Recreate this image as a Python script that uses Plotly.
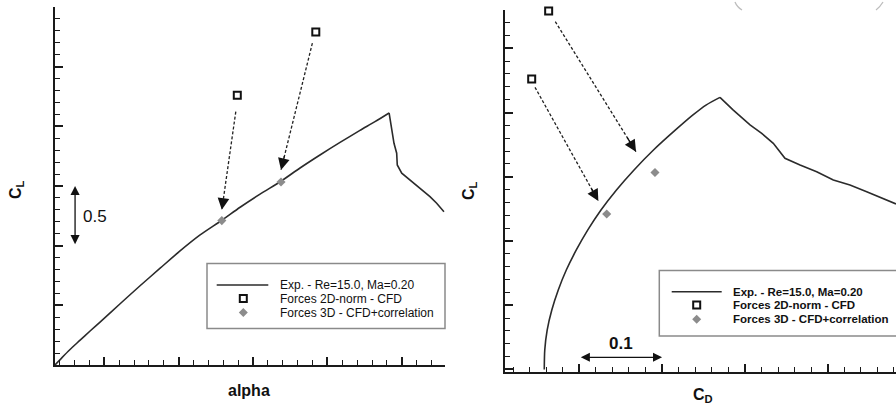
import plotly.graph_objects as go

# ---- data -------------------------------------------------------------
# Experimental lift curve  C_L(alpha); PEAK_A is the index of C_L,max
exp_alpha = [-3.32, -2.85, -2.31, -1.63, -0.96, -0.29, 1.06, 2.40, 3.75, 5.09,
             6.44, 7.90, 9.13, 10.47, 11.88, 13.16, 14.50, 15.85, 17.19,
             18.20, 19.15, 19.33, 19.48, 19.66, 19.70, 20.00, 20.56, 21.23,
             21.90, 22.35, 22.84]
exp_cl_a = [0.0, 0.062, 0.130, 0.208, 0.285, 0.360, 0.513, 0.664, 0.811,
            0.956, 1.090, 1.213, 1.322, 1.432, 1.540, 1.651, 1.760, 1.865,
            1.966, 2.039, 2.112, 1.970, 1.858, 1.775, 1.676, 1.607, 1.551,
            1.481, 1.411, 1.355, 1.285]
PEAK_A = 20

# Experimental drag polar  C_L(C_D); PEAK_D is the index of C_L,max
exp_cd = [0.0577, 0.0583, 0.0612, 0.0668, 0.0746, 0.0843, 0.0964, 0.1103,
          0.1262, 0.1449, 0.1661, 0.1896, 0.2162, 0.2373, 0.2530, 0.2699,
          0.2860, 0.3062, 0.3203, 0.3343, 0.3484, 0.3666, 0.3867, 0.4068,
          0.4269, 0.4471, 0.4671, 0.4825]
exp_cl_d = [0.0, 0.152, 0.307, 0.463, 0.619, 0.774, 0.930, 1.086, 1.241,
            1.397, 1.553, 1.708, 1.864, 1.981, 2.058, 2.118, 2.019, 1.903,
            1.838, 1.760, 1.644, 1.591, 1.539, 1.475, 1.436, 1.384, 1.332,
            1.288]
PEAK_D = 15

# CFD forces, 2D normalisation
cfd2d_alpha = [8.94, 14.22]
cfd2d_cd = [0.0425, 0.0630]
cfd2d_cl = [2.260, 2.790]

# CFD forces with 3D correlation
cfd3d_alpha = [7.90, 11.88]
cfd3d_cd = [0.1331, 0.1914]
cfd3d_cl = [1.210, 1.533]

# correction arrows (tail -> head)
arr_a_alpha0 = [8.84, 13.99]
arr_a_cl0 = [2.123, 2.697]
arr_a_alpha1 = [7.90, 11.88]
arr_a_cl1 = [1.300, 1.635]

arr_d_cd0 = [0.0465, 0.0710]
arr_d_cl0 = [2.196, 2.707]
arr_d_cd1 = [0.1230, 0.1685]
arr_d_cl1 = [1.311, 1.695]

# scale bars
scale_cl = [1.0, 1.5]
scale_cl_alpha = -1.97
scale_cd = [0.1, 0.2]
scale_cd_cl = 0.095

legend_labels = ["Exp. - Re=15.0, Ma=0.20",
                 "Forces 2D-norm - CFD",
                 "Forces 3D - CFD+correlation"]

# ---- styling ------------------------------------------------------------
W, H = 896, 419
FONT = "Liberation Sans, Arial, sans-serif"
LINE = "#2b2b2b"
GREY = "#8c8c8c"
INK = "#111"


def px(x):
    return x / W


def py(y):
    return 1 - y / H


fig = go.Figure()


def add_panel(xs, ys, peak, sq_x, sq_y, dm_x, dm_y, a0x, a0y, a1x, a1y,
              xa, ya):
    # rising branch drawn smooth, post-stall branch as measured
    fig.add_trace(go.Scatter(x=xs[:peak + 1], y=ys[:peak + 1], mode="lines",
                             line=dict(color=LINE, width=1.6, shape="spline",
                                       smoothing=0.8),
                             xaxis=xa, yaxis=ya, showlegend=False))
    fig.add_trace(go.Scatter(x=xs[peak:], y=ys[peak:], mode="lines",
                             line=dict(color=LINE, width=1.6),
                             xaxis=xa, yaxis=ya, showlegend=False))
    for i in range(2):
        fig.add_trace(go.Scatter(x=[a0x[i], a1x[i]], y=[a0y[i], a1y[i]],
                                 mode="lines",
                                 line=dict(color="#222", width=1.3,
                                           dash="3px,2px"),
                                 xaxis=xa, yaxis=ya, showlegend=False))
    fig.add_trace(go.Scatter(x=sq_x, y=sq_y, mode="markers", cliponaxis=False,
                             marker=dict(symbol="square", size=7,
                                         color="white",
                                         line=dict(color=INK, width=2)),
                             xaxis=xa, yaxis=ya, showlegend=False))
    fig.add_trace(go.Scatter(x=dm_x, y=dm_y, mode="markers", cliponaxis=False,
                             marker=dict(symbol="diamond", size=7, color=GREY,
                                         line=dict(width=0)),
                             xaxis=xa, yaxis=ya, showlegend=False))


add_panel(exp_alpha, exp_cl_a, PEAK_A, cfd2d_alpha, cfd2d_cl, cfd3d_alpha,
          cfd3d_cl, arr_a_alpha0, arr_a_cl0, arr_a_alpha1, arr_a_cl1,
          "x", "y")
add_panel(exp_cd, exp_cl_d, PEAK_D, cfd2d_cd, cfd2d_cl, cfd3d_cd, cfd3d_cl,
          arr_d_cd0, arr_d_cl0, arr_d_cd1, arr_d_cl1, "x2", "y2")

ax_common = dict(showline=True, linewidth=2, linecolor="#1a1a1a",
                 ticks="inside", ticklen=8, tickwidth=1.5, tickcolor="#1a1a1a",
                 showticklabels=False, showgrid=False, zeroline=False,
                 mirror=False)


def minor(step):
    return dict(ticks="inside", ticklen=5, tickwidth=1, tickcolor="#1a1a1a",
                dtick=step)


fig.update_layout(
    width=W, height=H,
    margin=dict(l=0, r=0, t=0, b=0),
    paper_bgcolor="white", plot_bgcolor="white",
    font=dict(family=FONT, color=INK),
    xaxis=dict(domain=[px(55), px(445)], range=[-3.32, 22.91], anchor="y",
               tick0=0, dtick=5, minor=minor(1), **ax_common),
    yaxis=dict(domain=[py(365), py(7)], range=[0, 3.0], anchor="x",
               tick0=0, dtick=0.5, minor=minor(0.1), **ax_common),
    xaxis2=dict(domain=[px(505), 1.0], range=[0.01027, 0.4825], anchor="y2",
                tick0=0, dtick=0.1, minor=minor(0.02), **ax_common),
    yaxis2=dict(domain=[py(372), py(9.7)], range=[-0.0195, 2.80],
                anchor="x2", tick0=0, dtick=0.5, minor=minor(0.1),
                **ax_common),
)

annotations = []
# arrow heads at the end of the dashed correction lines
for i in range(2):
    t = 0.12
    for (x1, y1, x0, y0, xr, yr) in [
            (arr_a_alpha1[i], arr_a_cl1[i], arr_a_alpha0[i], arr_a_cl0[i],
             "x", "y"),
            (arr_d_cd1[i], arr_d_cl1[i], arr_d_cd0[i], arr_d_cl0[i],
             "x2", "y2")]:
        annotations.append(dict(
            x=x1, y=y1, xref=xr, yref=yr,
            ax=x1 + t * (x0 - x1), ay=y1 + t * (y0 - y1),
            axref=xr, ayref=yr, text="", showarrow=True,
            arrowhead=2, arrowsize=1.8, arrowwidth=1.3, arrowcolor=INK))

# scale bars
annotations.append(dict(x=scale_cl_alpha, y=scale_cl[1], xref="x", yref="y",
                        ax=scale_cl_alpha, ay=scale_cl[0], axref="x", ayref="y",
                        text="", showarrow=True, arrowside="end+start",
                        arrowhead=2, arrowsize=1.4, arrowwidth=1.3,
                        arrowcolor=INK))
annotations.append(dict(x=scale_cd[1], y=scale_cd_cl, xref="x2", yref="y2",
                        ax=scale_cd[0], ay=scale_cd_cl, axref="x2", ayref="y2",
                        text="", showarrow=True, arrowside="end+start",
                        arrowhead=2, arrowsize=1.4, arrowwidth=1.3,
                        arrowcolor=INK))


def label(x, y, text, size, angle=0, xanchor="center"):
    annotations.append(dict(x=px(x), y=py(y), xref="paper", yref="paper",
                            xanchor=xanchor, yanchor="middle",
                            showarrow=False, text=text, textangle=angle,
                            font=dict(size=size, color=INK)))


label(81, 216.5, "0.5", 17, xanchor="left")
label(620.5, 343.5, "<b>0.1</b>", 17)

# axis titles
label(16, 190, "<b>C<sub>L</sub></b>", 16, angle=-90)
label(469, 191, "<b>C<sub>L</sub></b>", 16, angle=-90)
label(248.5, 390, "<b>alpha</b>", 16)
label(703, 395, "<b>C<sub>D</sub></b>", 16)

shapes = []


def add_legend(x0, y0, x1, y1, line_x0, line_x1, sym_x, text_x, rows, bold,
               size):
    shapes.append(dict(type="rect", xref="paper", yref="paper",
                       x0=px(x0), x1=px(x1), y0=py(y1), y1=py(y0),
                       line=dict(color="#8a8a8a", width=1.5),
                       fillcolor="rgba(0,0,0,0)"))
    shapes.append(dict(type="line", xref="paper", yref="paper",
                       x0=px(line_x0), x1=px(line_x1),
                       y0=py(rows[0]), y1=py(rows[0]),
                       line=dict(color=LINE, width=1.6)))
    s = 3.5
    shapes.append(dict(type="rect", xref="paper", yref="paper",
                       x0=px(sym_x - s), x1=px(sym_x + s),
                       y0=py(rows[1] + s), y1=py(rows[1] - s),
                       line=dict(color=INK, width=2), fillcolor="white"))
    d = 4.5
    cx, cy = sym_x, rows[2]
    path = (f"M {px(cx)} {py(cy - d)} L {px(cx + d)} {py(cy)} "
            f"L {px(cx)} {py(cy + d)} L {px(cx - d)} {py(cy)} Z")
    shapes.append(dict(type="path", xref="paper", yref="paper", path=path,
                       line=dict(width=0), fillcolor=GREY))
    for lab, ry in zip(legend_labels, rows):
        label(text_x, ry, f"<b>{lab}</b>" if bold else lab, size,
              xanchor="left")


add_legend(207, 263.5, 445, 328.5, 216.7, 268.3, 243.3, 277.5,
           [285, 298.5, 312.5], False, 12)
add_legend(659.3, 270.5, 905, 336, 671.7, 721.7, 696.7, 730.5,
           [291.7, 305, 319.3], True, 11.5)

# faint arcs along the top edge of the right panel
for p0, pc, p1 in [((735, 2), (737, 7), (742, 10)),
                   ((883, 2), (880, 7), (876, 10))]:
    shapes.append(dict(type="path", xref="paper", yref="paper",
                       path=(f"M {px(p0[0])} {py(p0[1])} "
                             f"Q {px(pc[0])} {py(pc[1])} "
                             f"{px(p1[0])} {py(p1[1])}"),
                       line=dict(color="#bdbdbd", width=1.3)))

fig.update_layout(annotations=annotations, shapes=shapes)
fig.write_html("out.html")
